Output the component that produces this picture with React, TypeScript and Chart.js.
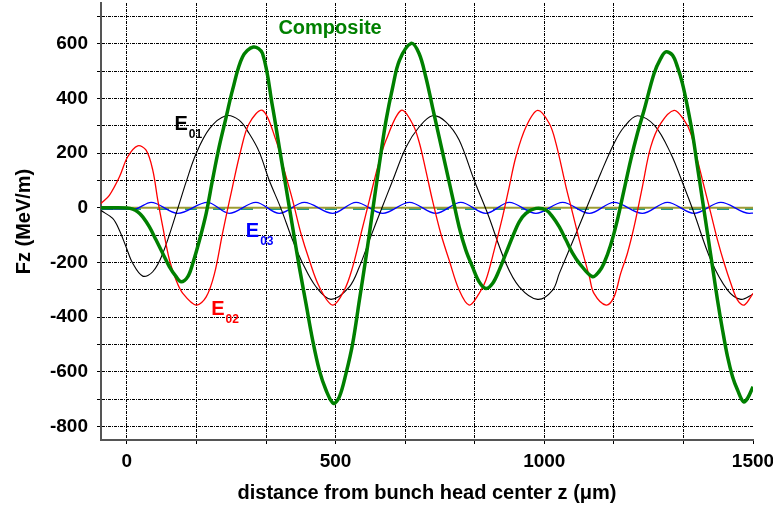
import React, { useEffect, useRef } from 'react';
import { Chart, registerables } from 'chart.js';

Chart.register(...registerables);

// ---- axis ranges & ticks ----
const X_MIN = -62;
const X_MAX = 1500;
const Y_MIN = -850;
const Y_MAX = 750;
const xGridTicks = [0, 166.67, 333.33, 500, 666.67, 833.33, 1000, 1166.67, 1333.33, 1500];
const xLabelTicks = [0, 500, 1000, 1500];
const yGridTicks = [-800, -700, -600, -500, -400, -300, -200, -100, 0, 100, 200, 300, 400, 500, 600, 700];
const yLabelTicks = [-800, -600, -400, -200, 0, 200, 400, 600];

// ---- E01 (black) ----
const zE01 = [-62, -34, -18, -2, 14, 38, 62, 86, 122, 142, 166, 198, 237, 269, 293, 317, 341, 369, 397, 421, 453, 489, 533, 557, 581, 609, 637, 669, 700, 732, 764, 796, 832, 864, 908, 940, 984, 1020, 1036, 1076, 1108, 1135, 1167, 1191, 1223, 1264, 1303, 1335, 1359, 1399, 1439, 1471, 1500];
const vE01 = [-10, -39, -82, -143, -203, -250, -234, -167, -2, 95, 199, 290, 337, 321, 272, 205, 101, -2, -118, -203, -289, -335, -289, -216, -118, -8, 101, 223, 296, 337, 315, 248, 101, -20, -203, -289, -335, -301, -240, -94, 25, 126, 236, 296, 337, 302, 199, 77, -20, -191, -301, -335, -316];

// ---- E02 (red) ----
const zE02 = [-62, -42, -18, 2, 26, 46, 62, 74, 86, 102, 118, 134, 166, 190, 210, 229, 253, 273, 293, 325, 357, 377, 397, 417, 437, 461, 493, 521, 541, 561, 581, 601, 621, 657, 684, 700, 716, 732, 752, 772, 796, 820, 844, 860, 880, 900, 916, 932, 956, 984, 1012, 1028, 1052, 1068, 1084, 1108, 1119, 1148, 1167, 1183, 1199, 1215, 1235, 1255, 1279, 1311, 1335, 1351, 1367, 1383, 1399, 1415, 1431, 1447, 1463, 1479, 1500];
const vE02 = [16, 46, 113, 187, 227, 211, 138, 28, -70, -191, -265, -313, -356, -326, -240, -94, 77, 211, 309, 357, 248, 138, 28, -94, -191, -289, -356, -301, -216, -94, 28, 150, 248, 357, 309, 242, 138, 28, -94, -191, -301, -356, -313, -265, -155, -33, 77, 187, 296, 357, 309, 236, 77, -20, -118, -252, -313, -356, -326, -240, -167, -70, 77, 223, 309, 357, 321, 272, 175, 77, -20, -118, -203, -277, -338, -356, -313];

// ---- E03 (blue) : extrema ----
const zE03 = [-62, 0, 20, 58, 122, 193, 245, 309, 365, 425, 493, 549, 613, 677, 740, 800, 860, 916, 980, 1044, 1108, 1167, 1235, 1295, 1359, 1423, 1491, 1500];
const vE03 = [-3, -5, -4, 20, -20, 20, -20, 20, -20, 20, -20, 20, -20, 20, -20, 20, -20, 20, -20, 20, -20, 20, -20, 20, -20, 20, -20, -19];

// ---- Composite (green) ----
const zComp = [-62, -30, 0, 14, 26, 38, 54, 70, 86, 102, 118, 130, 146, 158, 174, 190, 205, 221, 238, 253, 277, 303, 325, 349, 365, 381, 397, 413, 429, 445, 461, 477, 495, 509, 525, 541, 557, 573, 589, 605, 621, 637, 653, 681, 700, 716, 732, 748, 764, 780, 796, 812, 828, 844, 860, 876, 892, 908, 924, 940, 956, 980, 1004, 1020, 1036, 1052, 1068, 1084, 1115, 1131, 1143, 1159, 1175, 1191, 1207, 1223, 1239, 1263, 1279, 1291, 1307, 1319, 1331, 1343, 1355, 1367, 1379, 1391, 1403, 1415, 1427, 1439, 1451, 1463, 1477, 1487, 1500];
const vComp = [0, 0, -1, -5, -15, -33, -70, -118, -167, -216, -252, -271, -252, -203, -118, -20, 101, 223, 333, 431, 552, 589, 565, 370, 223, 77, -70, -216, -350, -484, -594, -667, -716, -692, -606, -496, -338, -179, -8, 162, 321, 443, 540, 602, 565, 480, 370, 260, 150, 40, -70, -155, -216, -271, -295, -277, -228, -167, -106, -51, -20, -2, -8, -33, -70, -118, -167, -203, -252, -234, -203, -136, -45, 65, 175, 272, 357, 492, 547, 571, 559, 516, 455, 370, 272, 150, 28, -94, -216, -338, -447, -545, -618, -667, -710, -697, -655];

// ---- zero reference lines ----
const zZero = [-62, 1500];
const vOlive = [0, 0];
const vTeal = [-3, -3];

// ---- in-plot labels (data coordinates) ----
const labelTexts = ['Composite', 'E', 'E', 'E'];
const labelSubs = ['', '01', '02', '03'];
const labelZ = [363, 114, 202, 285];
const labelV = [638, 284, -393, -106];
const labelColors = ['#008000', '#000000', '#ff0000', '#0000ff'];

const FONT = "'Liberation Sans', Arial, Helvetica, sans-serif";

const zip = (xs: number[], ys: number[]) => xs.map((x, i) => ({ x, y: ys[i] }));

const labelPlugin = {
  id: 'inPlotLabels',
  afterDatasetsDraw(chart: any) {
    const { ctx, scales } = chart;
    const xs = scales.x;
    const ys = scales.y;
    ctx.save();
    ctx.textBaseline = 'alphabetic';
    ctx.textAlign = 'left';
    for (let i = 0; i < labelTexts.length; i++) {
      const px = xs.getPixelForValue(labelZ[i]);
      const py = ys.getPixelForValue(labelV[i]);
      ctx.fillStyle = labelColors[i];
      ctx.font = `bold 20px ${FONT}`;
      ctx.fillText(labelTexts[i], px, py);
      if (labelSubs[i]) {
        const w = ctx.measureText(labelTexts[i]).width;
        ctx.font = `bold 12px ${FONT}`;
        ctx.fillText(labelSubs[i], px + w + 1, py + 8);
      }
    }
    ctx.restore();
  },
};

export default function App() {
  const canvasRef = useRef<HTMLCanvasElement | null>(null);

  useEffect(() => {
    const canvas = canvasRef.current;
    if (!canvas) return;
    const gridColor = '#000000';
    const tickFont = { family: FONT, size: 19, weight: 'bold' as const };
    const titleFont = { family: FONT, size: 20, weight: 'bold' as const };
    const curve = { pointRadius: 0, tension: 0.35, fill: false };

    const chart = new Chart(canvas, {
      type: 'line',
      data: {
        datasets: [
          { label: 'Composite', data: zip(zComp, vComp), borderColor: '#008000', borderWidth: 3.5, ...curve },
          { label: 'E02', data: zip(zE02, vE02), borderColor: '#ff0000', borderWidth: 1.3, ...curve },
          { label: 'E01', data: zip(zE01, vE01), borderColor: '#000000', borderWidth: 1.1, ...curve },
          { label: 'E03', data: zip(zE03, vE03), borderColor: '#0000ff', borderWidth: 1.3, pointRadius: 0, cubicInterpolationMode: 'monotone', fill: false },
          { label: 'zero', data: zip(zZero, vOlive), borderColor: '#9c9c34', borderWidth: 2, pointRadius: 0, fill: false },
          { label: 'base', data: zip(zZero, vTeal), borderColor: '#1f9a8a', borderWidth: 2.5, borderDash: [12, 16], pointRadius: 0, fill: false },
        ],
      },
      options: {
        animation: false,
        responsive: false,
        maintainAspectRatio: false,
        layout: { padding: { top: 3, left: 0, right: 20, bottom: 0 } },
        plugins: { legend: { display: false }, tooltip: { enabled: false }, title: { display: false } },
        scales: {
          x: {
            type: 'linear',
            min: X_MIN,
            max: X_MAX,
            afterBuildTicks: (s: any) => { s.ticks = xGridTicks.map((v) => ({ value: v })); },
            afterFit: (s: any) => { s.height = 74; s.paddingLeft = 0; s.paddingRight = 20; },
            ticks: {
              autoSkip: false,
              maxRotation: 0,
              minRotation: 0,
              padding: 6,
              color: '#000',
              font: tickFont,
              callback: (v: any) => (xLabelTicks.some((t) => Math.abs(t - Number(v)) < 0.01) ? String(Math.round(Number(v))) : ''),
            },
            grid: {
              color: (c: any) => (c.tick && c.tick.value >= 1499 ? 'rgba(0,0,0,0)' : gridColor),
              lineWidth: 1,
              tickLength: 4,
              tickColor: '#000',
              tickWidth: 1,
            },
            border: { display: true, color: '#555', width: 2, dash: [3, 1, 1, 1] },
            title: { display: true, text: 'distance from bunch head center z (μm)', color: '#000', font: titleFont, padding: { top: 0, bottom: 9 } },
          },
          y: {
            type: 'linear',
            min: Y_MIN,
            max: Y_MAX,
            afterBuildTicks: (s: any) => { s.ticks = yGridTicks.map((v) => ({ value: v })); },
            afterFit: (s: any) => { s.width = 101; s.paddingTop = 0; s.paddingBottom = 0; },
            ticks: {
              autoSkip: false,
              padding: 9,
              color: '#000',
              font: tickFont,
              callback: (v: any) => (yLabelTicks.includes(Number(v)) ? String(v) : ''),
            },
            grid: { color: gridColor, lineWidth: 1, tickLength: 4, tickColor: '#000', tickWidth: 1 },
            border: { display: true, color: '#555', width: 2, dash: [3, 1, 1, 1] },
            title: { display: true, text: 'Fz (MeV/m)', color: '#000', font: titleFont, padding: { top: 12, bottom: 0 } },
          },
        },
      },
      plugins: [labelPlugin],
    } as any);

    return () => chart.destroy();
  }, []);

  return (
    <div style={{ position: 'absolute', left: 0, top: 0, width: 773, height: 514, background: '#fff' }}>
      <canvas ref={canvasRef} width={773} height={514} style={{ display: 'block', width: 773, height: 514 }} />
    </div>
  );
}
